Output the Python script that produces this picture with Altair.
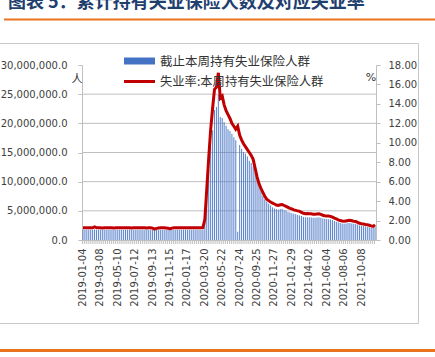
import altair as alt
import pandas as pd

# ---------------- data ----------------
start_date = "2019-01-04"
n_weeks = 152
dates = [d.strftime("%Y-%m-%d") for d in pd.date_range(start_date, periods=n_weeks, freq="W-FRI")]
label_dates = dates[::9]

# insured unemployment rate (%), right axis
rate_pre = [1.25, 1.25, 1.26, 1.25, 1.25, 1.26, 1.35, 1.27, 1.25, 1.25,
            1.24, 1.25, 1.25, 1.25, 1.26, 1.25, 1.24, 1.25, 1.25, 1.25,
            1.25, 1.25, 1.26, 1.25, 1.25, 1.24, 1.25, 1.25, 1.25, 1.25,
            1.25, 1.25, 1.25, 1.24, 1.25, 1.25, 1.22, 1.13, 1.20, 1.24,
            1.25, 1.25, 1.25, 1.24, 1.22, 1.14, 1.22, 1.25, 1.25, 1.25,
            1.25, 1.25, 1.25, 1.25, 1.25, 1.25, 1.25, 1.25, 1.25, 1.25,
            1.25, 1.26, 1.27]
rate_post = [2.1, 5.2, 8.4, 11.3, 13.5, 15.5, 15.7, 17.2, 14.6, 14.8,
             13.9, 13.3, 12.9, 12.5, 12.0, 11.7, 11.4, 11.7, 10.8, 10.3,
             9.9, 9.6, 9.3, 9.0, 8.7, 8.3, 7.4, 6.5, 5.8, 5.3,
             4.9, 4.5, 4.2, 4.05, 3.9, 3.8, 3.7, 3.6, 3.55, 3.62,
             3.65, 3.55, 3.45, 3.35, 3.25, 3.2, 3.1, 3.05, 3.0, 2.95,
             2.85, 2.75, 2.7, 2.72, 2.7, 2.7, 2.66, 2.66, 2.68, 2.7,
             2.64, 2.55, 2.5, 2.48, 2.46, 2.43, 2.35, 2.25, 2.17, 2.08,
             2.0, 1.95, 1.92, 1.96, 2.0, 2.02, 1.98, 1.93, 1.9, 1.82,
             1.72, 1.68, 1.65, 1.6, 1.57, 1.52, 1.45, 1.4, 1.56]

# people holding unemployment insurance (millions), left axis
claims_pre_m = [1.74, 1.76, 1.77, 1.76, 1.75, 1.77, 1.80, 1.78, 1.76, 1.75,
                1.74, 1.75, 1.76, 1.75, 1.76, 1.75, 1.74, 1.75, 1.76, 1.75,
                1.75, 1.74, 1.76, 1.75, 1.75, 1.74, 1.75, 1.76, 1.75, 1.75,
                1.75, 1.74, 1.75, 1.74, 1.75, 1.75, 1.72, 1.66, 1.70, 1.74,
                1.75, 1.75, 1.75, 1.74, 1.72, 1.66, 1.72, 1.75, 1.75, 1.75,
                1.74, 1.75, 1.75, 1.76, 1.75, 1.74, 1.75, 1.75, 1.76, 1.75,
                1.75, 1.77, 1.78]
claims_post_m = [3.1, 7.5, 12.0, 16.0, 18.8, 22.3, 22.8, 24.9, 21.1, 20.9,
                 20.2, 19.6, 19.0, 18.7, 18.2, 17.6, 17.1, 1.4, 16.3, 15.6,
                 15.1, 14.8, 14.3, 13.6, 13.2, 12.6, 11.6, 10.4, 9.4, 8.4,
                 7.6, 7.0, 6.6, 6.2, 5.9, 5.6, 5.4, 5.3, 5.2, 5.3,
                 5.3, 5.1, 5.0, 4.8, 4.7, 4.6, 4.5, 4.4, 4.3, 4.2,
                 4.1, 3.95, 3.9, 3.9, 3.9, 3.85, 3.8, 3.8, 3.85, 3.9,
                 3.8, 3.7, 3.65, 3.6, 3.55, 3.5, 3.4, 3.25, 3.15, 3.05,
                 2.9, 2.85, 2.8, 2.82, 2.9, 2.9, 2.85, 2.8, 2.75, 2.65,
                 2.5, 2.45, 2.4, 2.3, 2.25, 2.2, 2.1, 2.05, 2.2]

left_ticks = [0, 5000000, 10000000, 15000000, 20000000, 25000000, 30000000]
grid_values = [5000000, 10000000, 15000000, 20000000, 25000000]
right_ticks = [0, 2, 4, 6, 8, 10, 12, 14, 16, 18]

title_text = "图表 5：累计持有失业保险人数及对应失业率"
legend_bar = "截止本周持有失业保险人群"
legend_line = "失业率:本周持有失业保险人群"

rates = rate_pre + rate_post
claims = [v * 1e6 for v in claims_pre_m + claims_post_m]
df = pd.DataFrame({"date": dates, "claims": claims, "rate": rates})

FONT = "DejaVu Sans"
CJK = "Noto Sans CJK SC"
GREY = "#BFBFBF"
LBL = "#404040"

W, H = 294, 175
PL, PT = 82, 65

x_axis = alt.Axis(values=label_dates, labelAngle=270, ticks=False, labelPadding=8,
                  domainColor=GREY, title=None, labelFontSize=10, labelFont=FONT,
                  labelColor=LBL, labelOverlap=False)
x_scale = alt.Scale(paddingInner=0.45, paddingOuter=0.22)
x_enc = alt.X("date:O", sort=None, scale=x_scale, axis=x_axis)

left_scale = alt.Scale(domain=[0, 30000000])
left_axis = alt.Axis(values=left_ticks, format=",.1f", grid=False, tickSize=4,
                     tickColor=GREY, domainColor=GREY, labelPadding=11,
                     labelFont=FONT, labelFontSize=10, labelColor=LBL, title=None)
base = alt.Chart(df)

grid = alt.Chart(pd.DataFrame({"claims": grid_values})).mark_rule(color=GREY, strokeWidth=1).encode(
    y=alt.Y("claims:Q", scale=left_scale, axis=left_axis)
)
bars = base.mark_bar(color="#4472C4", opacity=0.85).encode(
    x=x_enc,
    y=alt.Y("claims:Q", scale=left_scale, axis=left_axis),
)
xticks = base.mark_rule(color=GREY, strokeWidth=1).encode(
    x=alt.X("date:O", sort=None, scale=x_scale, axis=x_axis, bandPosition=0),
    y=alt.value(H),
    y2=alt.value(H + 4),
)
left = alt.layer(grid, bars, xticks)

line = base.mark_line(color="#C00000", strokeWidth=3).encode(
    x=x_enc,
    y=alt.Y("rate:Q", scale=alt.Scale(domain=[0, 18]),
            axis=alt.Axis(orient="right", values=right_ticks, format=".2f", grid=False,
                          tickSize=4, tickColor=GREY, domainColor=GREY, labelPadding=8,
                          labelFont=FONT, labelFontSize=10, labelColor=LBL, title=None)),
)

one = pd.DataFrame({"t": [""]})


def txt(s, x, y, size, font=CJK, color="#333333", align="left", weight="normal", baseline="middle"):
    return alt.Chart(pd.DataFrame({"t": [s]})).mark_text(
        align=align, baseline=baseline, font=font, fontSize=size, color=color, fontWeight=weight
    ).encode(x=alt.value(x - PL), y=alt.value(y - PT), text="t:N")


def hline(x1, x2, y, color, width):
    return alt.Chart(one).mark_rule(color=color, strokeWidth=width).encode(
        x=alt.value(x1 - PL), x2=alt.value(x2 - PL), y=alt.value(y - PT))


box = alt.Chart(one).mark_rect(fillOpacity=0, stroke="#C8C8C8", strokeWidth=1).encode(
    x=alt.value(-1 - PL), x2=alt.value(418.5 - PL), y=alt.value(43.5 - PT), y2=alt.value(323.5 - PT))

leg_rect = alt.Chart(one).mark_rect(color="#4472C4").encode(
    x=alt.value(124 - PL), x2=alt.value(155 - PL), y=alt.value(57.5 - PT), y2=alt.value(64.5 - PT))

decos = [
    txt(title_text, 8, 12, 18, color="#1F3F6F", weight="bold", baseline="bottom"),
    hline(4, 435, 19.5, "#E8731C", 2),
    box,
    hline(0, 435, 350.5, "#E8731C", 3),
    leg_rect,
    txt(legend_bar, 160, 61.5, 12.5),
    hline(124, 155, 81.5, "#C00000", 3),
    txt(legend_line, 160, 81.5, 12.3),
    txt("人", 77, 80, 11, align="center"),
    txt("%", 371, 77.5, 11, font=FONT, align="center"),
]

chart = alt.layer(left, line, *decos).resolve_scale(y="independent").properties(
    width=W, height=H,
    autosize=alt.AutoSizeParams(type="none"),
    padding={"left": PL, "top": PT, "right": 435 - PL - W, "bottom": 357 - PT - H},
    background="white",
).configure_view(strokeWidth=0)

chart.save("out.html", embed_options={"renderer": "svg", "actions": False})
